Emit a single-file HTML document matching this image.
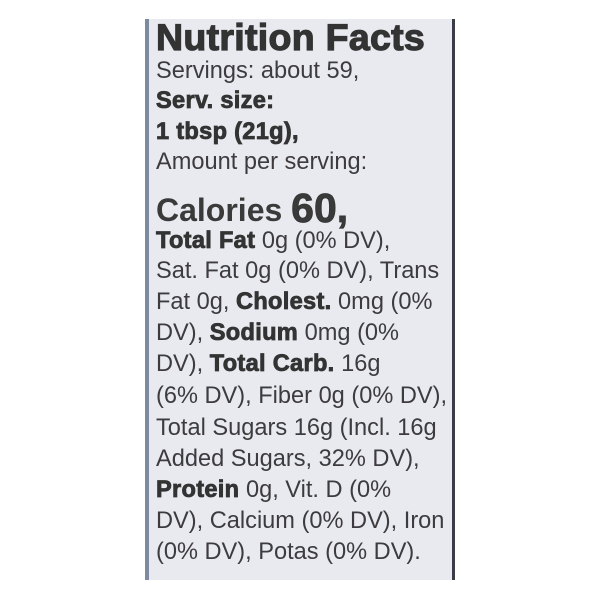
<!DOCTYPE html>
<html><head><style>
html,body{margin:0;padding:0;background:#fff;width:600px;height:600px;overflow:hidden}
.p{position:absolute;left:145px;top:19px;width:310px;height:561px;background:#e9eaf0;border-left:4px solid #7d8aa0;border-right:3px solid #3a3d48;box-sizing:border-box}
.l{position:absolute;left:156px;font-family:"Liberation Sans",sans-serif;font-size:23.6px;color:#3d3b3d;white-space:nowrap;line-height:1}
b{font-weight:bold;color:#333;-webkit-text-stroke:0.8px #333;letter-spacing:0.3px}
</style></head><body>
<div class="p"></div>
<div class="l" style="top:19px;font-size:37.5px;font-weight:bold;color:#333;-webkit-text-stroke:1.2px #333;letter-spacing:0.3px">Nutrition Facts</div>
<div class="l" style="top:60px">Servings: about 59,</div>
<div class="l" style="top:90px"><b>Serv. size:</b></div>
<div class="l" style="top:121px"><b>1 tbsp (21g),</b></div>
<div class="l" style="top:151px">Amount per serving:</div>
<div class="l" style="top:187px;font-size:32px;font-weight:bold;color:#3a3a3a">Calories <span style="font-size:41px;position:relative;top:1px;-webkit-text-stroke:0.8px #333">60,</span></div>
<div class="l" style="top:230px"><b>Total Fat</b> 0g (0% DV),</div>
<div class="l" style="top:260px">Sat. Fat 0g (0% DV), Trans</div>
<div class="l" style="top:291px">Fat 0g, <b>Cholest.</b> 0mg (0%</div>
<div class="l" style="top:322px">DV), <b>Sodium</b> 0mg (0%</div>
<div class="l" style="top:353px">DV), <b>Total Carb.</b> 16g</div>
<div class="l" style="top:385px">(6% DV), Fiber 0g (0% DV),</div>
<div class="l" style="top:417px">Total Sugars 16g (Incl. 16g</div>
<div class="l" style="top:448px">Added Sugars, 32% DV),</div>
<div class="l" style="top:479px"><b>Protein</b> 0g, Vit. D (0%</div>
<div class="l" style="top:510px">DV), Calcium (0% DV), Iron</div>
<div class="l" style="top:541px">(0% DV), Potas (0% DV).</div>
</body></html>
